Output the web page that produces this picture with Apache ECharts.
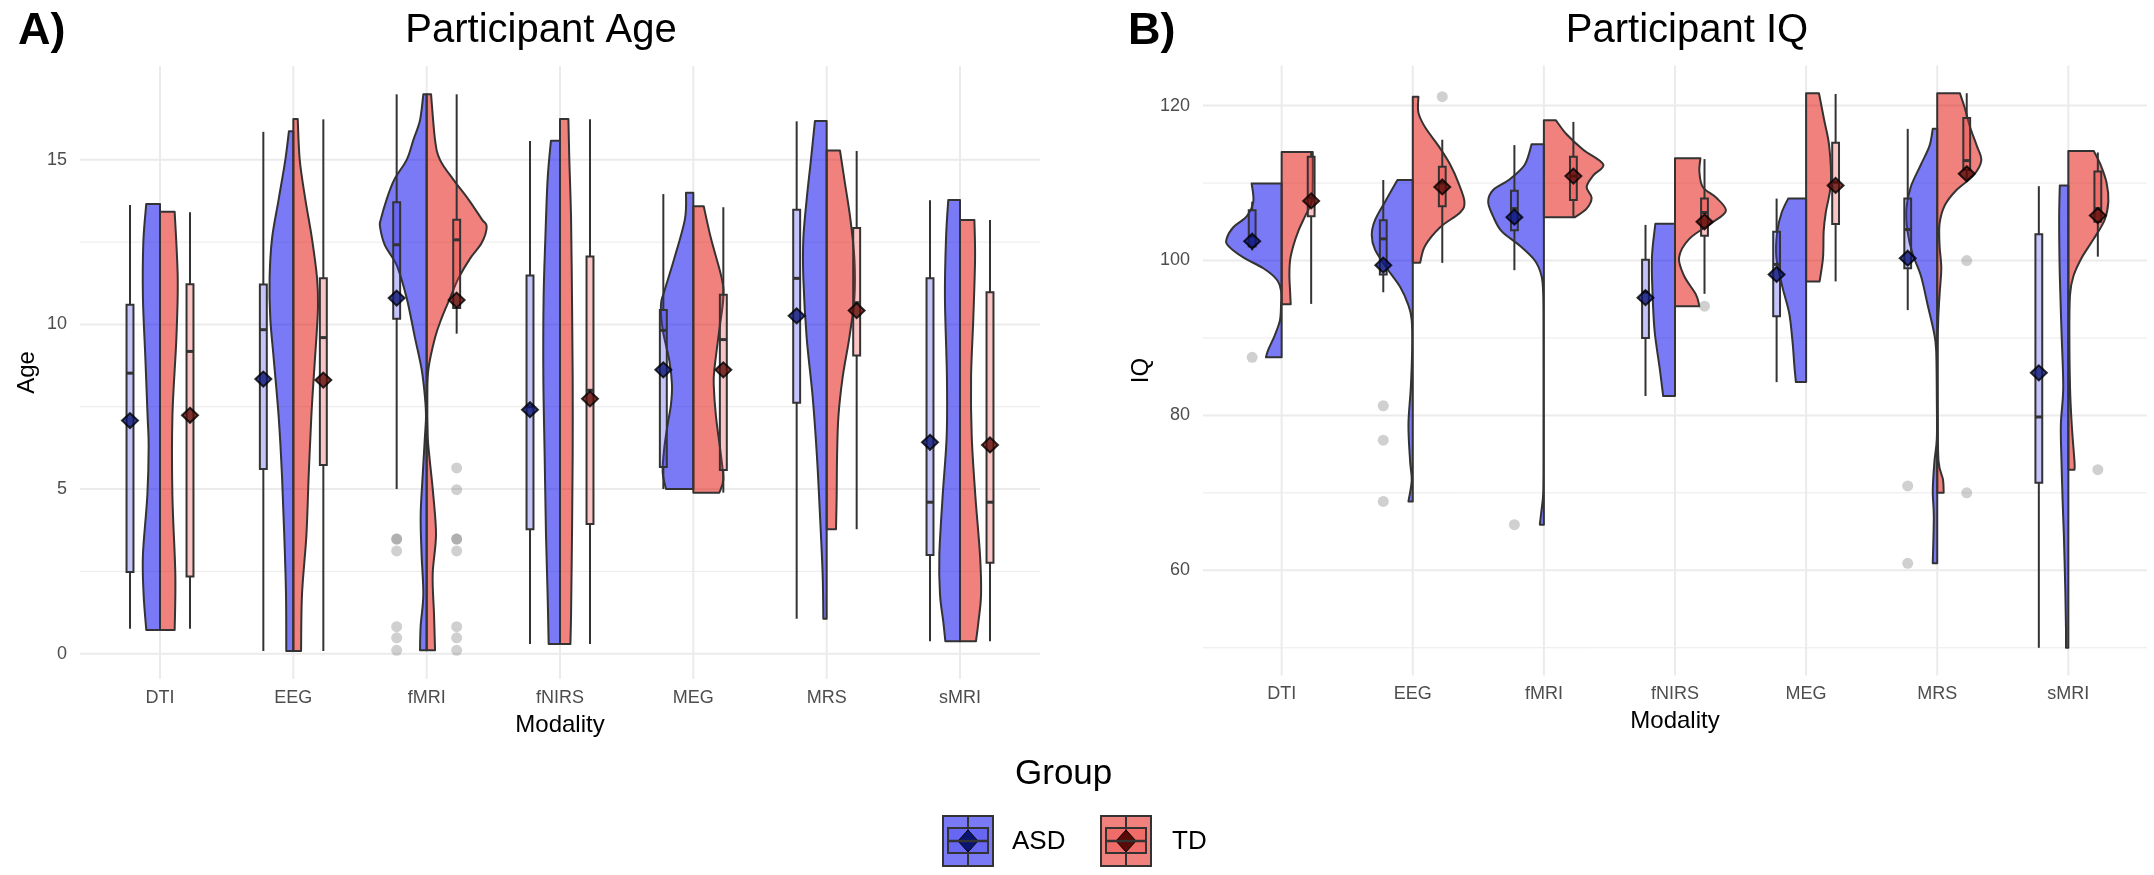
<!DOCTYPE html>
<html>
<head>
<meta charset="utf-8">
<script src="https://cdn.jsdelivr.net/npm/echarts@6/dist/echarts.min.js"></script>
<style>
  html, body { margin: 0; padding: 0; background: #fff; }
  #chart { width: 2154px; height: 875px; }
</style>
</head>
<body>
<div id="chart"></div>
<script>
// ================= data =================
var modalities = ['DTI', 'EEG', 'fMRI', 'fNIRS', 'MEG', 'MRS', 'sMRI'];
var groups = ['ASD', 'TD'];

var ageLimits = [-0.77, 17.85];
var ageTicks = [0, 5, 10, 15];
var ageMinor = [2.5, 7.5, 12.5];
var iqLimits = [46.42, 125.18];
var iqTicks = [60, 80, 100, 120];
var iqMinor = [50, 70, 90, 110];

// violin outlines, top to bottom: [value, half width in category units]
var ageViolinASD = [
  [[13.66, 0.103], [12.5, 0.125], [10.8, 0.128], [9.0, 0.11], [7.2, 0.093], [6.3, 0.085], [4.8, 0.095], [3.0, 0.128], [1.8, 0.123], [0.72, 0.103]],
  [[15.87, 0.033], [15.0, 0.06], [13.8, 0.11], [12.6, 0.16], [11.4, 0.178], [10.2, 0.173], [9.0, 0.148], [7.2, 0.11], [5.4, 0.085], [3.6, 0.068], [1.8, 0.055], [0.08, 0.053]],
  [[16.99, 0.025], [16.2, 0.05], [15.6, 0.1], [15.0, 0.15], [14.4, 0.243], [13.8, 0.3], [13.2, 0.343], [12.97, 0.35], [12.4, 0.313], [11.8, 0.225], [10.8, 0.15], [9.6, 0.088], [8.64, 0.038], [7.8, 0.013], [7.2, 0.005], [6.6, 0.013], [5.4, 0.03], [4.2, 0.045], [3.0, 0.038], [1.8, 0.025], [0.84, 0.045], [0.1, 0.05]],
  [[15.58, 0.068], [14.4, 0.093], [12.6, 0.11], [10.8, 0.123], [8.4, 0.125], [6.0, 0.115], [3.6, 0.105], [1.8, 0.093], [0.29, 0.085]],
  [[14.0, 0.055], [13.2, 0.063], [12.0, 0.143], [11.0, 0.218], [10.6, 0.243], [9.84, 0.23], [8.9, 0.18], [8.16, 0.16], [7.56, 0.168], [6.96, 0.193], [6.24, 0.218], [5.52, 0.23], [5.0, 0.205]],
  [[16.18, 0.088], [15.0, 0.118], [13.8, 0.15], [12.6, 0.175], [11.4, 0.175], [9.6, 0.15], [7.8, 0.105], [6.0, 0.073], [4.2, 0.05], [2.4, 0.03], [1.06, 0.025]],
  [[13.78, 0.088], [12.6, 0.105], [10.8, 0.113], [8.4, 0.098], [6.6, 0.1], [4.8, 0.13], [3.0, 0.155], [1.8, 0.15], [0.96, 0.125], [0.38, 0.11]]
];
var ageViolinTD = [
  [[13.42, 0.11], [11.4, 0.133], [9.6, 0.123], [7.2, 0.093], [4.8, 0.093], [2.4, 0.115], [0.72, 0.11]],
  [[16.24, 0.033], [15.0, 0.048], [13.8, 0.09], [12.6, 0.14], [11.4, 0.178], [10.56, 0.185], [9.6, 0.173], [8.4, 0.153], [7.2, 0.135], [5.4, 0.115], [3.6, 0.098], [1.8, 0.065], [0.08, 0.058]],
  [[16.99, 0.033], [15.6, 0.063], [15.0, 0.1], [14.4, 0.2], [13.8, 0.313], [13.2, 0.413], [12.97, 0.45], [12.48, 0.413], [12.0, 0.325], [11.4, 0.238], [10.8, 0.175], [10.2, 0.113], [9.6, 0.063], [8.64, 0.013], [7.8, 0.005], [6.6, 0.008], [6.0, 0.02], [4.8, 0.05], [3.6, 0.07], [2.4, 0.045], [1.2, 0.055], [0.1, 0.063]],
  [[16.24, 0.063], [15.0, 0.07], [13.2, 0.083], [10.8, 0.09], [8.4, 0.095], [6.0, 0.095], [3.6, 0.09], [1.2, 0.083], [0.29, 0.078]],
  [[13.59, 0.078], [12.6, 0.133], [11.4, 0.213], [10.8, 0.225], [9.84, 0.195], [8.64, 0.158], [8.16, 0.153], [7.2, 0.17], [6.0, 0.208], [5.28, 0.225], [4.89, 0.195]],
  [[15.28, 0.1], [14.4, 0.133], [13.2, 0.178], [12.0, 0.208], [10.8, 0.208], [9.6, 0.17], [8.4, 0.12], [7.2, 0.088], [6.0, 0.078], [4.8, 0.075], [3.78, 0.07]],
  [[13.17, 0.108], [12.0, 0.113], [10.2, 0.1], [8.4, 0.083], [6.6, 0.088], [4.8, 0.115], [3.0, 0.15], [1.8, 0.158], [0.96, 0.138], [0.38, 0.12]]
];
var iqViolinASD = [
  [[109.93, 0.229], [107.6, 0.216], [105.7, 0.267], [104.3, 0.369], [102.8, 0.42], [101.9, 0.407], [100.4, 0.293], [99.0, 0.14], [97.55, 0.038], [96.1, 0.005], [94.2, 0.005], [92.3, 0.013], [90.4, 0.051], [88.5, 0.102], [87.5, 0.12]],
  [[110.4, 0.117], [107.6, 0.211], [105.2, 0.288], [103.3, 0.313], [101.4, 0.288], [99.0, 0.198], [96.6, 0.097], [94.2, 0.033], [92.3, 0.008], [88.4, 0.005], [83.6, 0.015], [78.8, 0.033], [74.0, 0.02], [71.6, 0.008], [68.9, 0.033]],
  [[115.0, 0.094], [112.4, 0.145], [110.5, 0.26], [109.1, 0.387], [107.6, 0.425], [105.7, 0.387], [103.8, 0.323], [101.9, 0.183], [100.0, 0.069], [98.0, 0.018], [95.6, 0.005], [90.0, 0.003], [75.0, 0.003], [70.0, 0.005], [67.8, 0.018], [65.9, 0.031]],
  [[104.75, 0.15], [100.4, 0.176], [95.6, 0.171], [90.8, 0.155], [86.0, 0.116], [82.5, 0.09]],
  [[108.0, 0.137], [106.2, 0.186], [103.8, 0.22], [100.4, 0.227], [96.6, 0.181], [93.2, 0.129], [89.4, 0.103], [86.5, 0.09], [84.3, 0.078]],
  [[117.0, 0.034], [114.8, 0.059], [112.4, 0.124], [109.5, 0.202], [106.7, 0.235], [103.8, 0.227], [100.9, 0.189], [98.0, 0.124], [94.2, 0.072], [90.8, 0.026], [88.4, 0.008], [82.0, 0.003], [77.0, 0.003], [74.1, 0.021], [70.3, 0.034], [66.9, 0.026], [60.9, 0.034]],
  [[109.7, 0.065], [105.2, 0.07], [98.0, 0.065], [90.8, 0.052], [83.6, 0.039], [78.8, 0.057], [74.0, 0.052], [69.2, 0.044], [64.5, 0.034], [57.3, 0.023], [52.5, 0.018], [50.0, 0.018]]
];
var iqViolinTD = [
  [[114.0, 0.237], [110.0, 0.237], [107.6, 0.229], [105.7, 0.178], [103.8, 0.127], [101.9, 0.089], [100.0, 0.064], [98.0, 0.059], [96.1, 0.064], [94.34, 0.069]],
  [[121.15, 0.043], [119.1, 0.043], [117.2, 0.094], [114.8, 0.196], [112.4, 0.285], [110.0, 0.349], [107.6, 0.394], [106.2, 0.361], [104.3, 0.209], [101.9, 0.094], [99.7, 0.056]],
  [[118.1, 0.092], [116.3, 0.173], [114.3, 0.3], [112.4, 0.453], [111.0, 0.377], [109.5, 0.326], [108.1, 0.364], [106.7, 0.326], [105.6, 0.237]],
  [[113.2, 0.194], [111.5, 0.186], [109.5, 0.212], [108.1, 0.315], [106.4, 0.388], [104.8, 0.276], [102.8, 0.109], [100.4, 0.031], [98.0, 0.07], [95.6, 0.16], [94.1, 0.186]],
  [[121.6, 0.098], [118.2, 0.137], [114.8, 0.176], [110.0, 0.189], [106.2, 0.15], [103.8, 0.134], [100.4, 0.129], [97.3, 0.103]],
  [[121.6, 0.173], [119.6, 0.212], [117.2, 0.251], [114.8, 0.302], [112.9, 0.336], [110.98, 0.276], [109.1, 0.147], [107.1, 0.057], [104.75, 0.018], [101.9, 0.018], [99.0, 0.031], [95.6, 0.018], [90.8, 0.005], [80.0, 0.005], [74.1, 0.01], [71.7, 0.044], [70.0, 0.049]],
  [[114.15, 0.194], [112.4, 0.245], [110.0, 0.292], [107.6, 0.305], [105.2, 0.276], [102.8, 0.194], [100.4, 0.103], [98.0, 0.039], [95.6, 0.013], [90.8, 0.008], [83.6, 0.013], [78.8, 0.026], [74.0, 0.047], [73.0, 0.047]]
];

// boxes: [lower whisker, q1, median, q3, upper whisker]
var ageBoxASD = [[0.76, 2.48, 8.52, 10.6, 13.63], [0.08, 5.61, 9.84, 11.21, 15.85], [5.0, 10.17, 12.42, 13.71, 16.99], [0.29, 3.78, 7.5, 11.49, 15.57], [5.0, 5.67, 9.82, 10.44, 13.96], [1.06, 7.62, 11.4, 13.48, 16.17], [0.38, 3.0, 4.6, 11.4, 13.77]];
var ageBoxTD = [[0.76, 2.34, 9.18, 11.22, 13.41], [0.08, 5.73, 9.6, 11.4, 16.23], [9.72, 10.5, 12.57, 13.18, 16.99], [0.29, 3.94, 8.0, 12.06, 16.23], [4.89, 5.58, 9.54, 10.9, 13.56], [3.78, 9.06, 10.66, 12.93, 15.27], [0.38, 2.76, 4.6, 10.98, 13.17]];
var iqBoxASD = [[101.3, 101.8, 103.1, 106.5, 107.6], [95.9, 98.2, 102.8, 105.2, 110.4], [98.75, 103.9, 106.7, 109.0, 114.9], [82.5, 90.0, 95.9, 100.1, 104.6], [84.3, 92.8, 99.5, 103.7, 108.0], [93.6, 99.0, 104.0, 108.0, 117.0], [50.0, 71.3, 79.8, 103.4, 109.6]];
var iqBoxTD = [[94.4, 105.7, 108.1, 113.4, 114.0], [99.7, 107.0, 110.0, 112.1, 115.6], [105.6, 107.8, 110.9, 113.4, 117.9], [95.7, 103.2, 106.2, 108.0, 113.1], [97.3, 104.7, 110.1, 115.2, 121.5], [110.5, 111.7, 112.9, 118.4, 121.6], [100.5, 105.0, 106.7, 111.5, 113.95]];

// group means
var ageMeanASD = [7.08, 8.34, 10.8, 7.41, 8.62, 10.26, 6.42];
var ageMeanTD = [7.24, 8.31, 10.74, 7.74, 8.62, 10.42, 6.34];
var iqMeanASD = [102.5, 99.4, 105.6, 95.2, 98.2, 100.3, 85.5];
var iqMeanTD = [107.7, 109.5, 110.9, 105.0, 109.7, 111.2, 105.8];

// outliers: [modality index, value]
var ageOutlierASD = [[2, 3.48], [2, 3.48], [2, 3.12], [2, 0.82], [2, 0.48], [2, 0.1]];
var ageOutlierTD = [[2, 5.64], [2, 4.98], [2, 3.48], [2, 3.48], [2, 3.12], [2, 0.82], [2, 0.48], [2, 0.1]];
var iqOutlierASD = [[0, 87.5], [1, 81.25], [1, 76.8], [1, 68.9], [2, 65.9], [5, 70.9], [5, 60.9]];
var iqOutlierTD = [[1, 121.15], [3, 94.1], [5, 100.0], [5, 70.0], [6, 73.0]];

// ================= style =================
var FONT = '"Liberation Sans", Arial, sans-serif';
var violinFill = { ASD: 'rgba(10,10,240,0.54)', TD: 'rgba(228,14,6,0.52)' };
var boxFill = { ASD: 'rgba(60,60,240,0.3)', TD: 'rgba(235,60,55,0.3)' };
var meanFill = { ASD: '#0a1570', TD: '#5a0b07' };
var side = { ASD: -1, TD: 1 };
var boxOffset = 0.225, boxHalf = 0.026;

var panels = [
  {
    grid: { left: 80, top: 66, width: 960, height: 613 },
    limits: ageLimits, ticks: ageTicks, minor: ageMinor, yName: 'Age', yNameGap: 41,
    violin: { ASD: ageViolinASD, TD: ageViolinTD },
    box: { ASD: ageBoxASD, TD: ageBoxTD },
    mean: { ASD: ageMeanASD, TD: ageMeanTD },
    outlier: { ASD: ageOutlierASD, TD: ageOutlierTD }
  },
  {
    grid: { left: 1203, top: 65.5, width: 944, height: 610 },
    limits: iqLimits, ticks: iqTicks, minor: iqMinor, yName: 'IQ', yNameGap: 50,
    violin: { ASD: iqViolinASD, TD: iqViolinTD },
    box: { ASD: iqBoxASD, TD: iqBoxTD },
    mean: { ASD: iqMeanASD, TD: iqMeanTD },
    outlier: { ASD: iqOutlierASD, TD: iqOutlierTD }
  }
];

var catPos = modalities.map(function (m, i) { return i + 1; });

// smooth outline through the read points (Catmull-Rom as Bezier)
function violinRender(profiles, g) {
  return function (params, api) {
    var i = api.value(0);
    var prof = profiles[i];
    var cx = i + 1;
    var pts = prof.map(function (p) { return api.coord([cx + side[g] * p[1], p[0]]); });
    var top = api.coord([cx, prof[0][0]]);
    var bot = api.coord([cx, prof[prof.length - 1][0]]);
    var d = 'M' + top[0] + ' ' + top[1] + 'L' + pts[0][0] + ' ' + pts[0][1];
    for (var k = 0; k < pts.length - 1; k++) {
      var p0 = pts[Math.max(k - 1, 0)], p1 = pts[k], p2 = pts[k + 1], p3 = pts[Math.min(k + 2, pts.length - 1)];
      d += 'C' + (p1[0] + (p2[0] - p0[0]) / 6) + ' ' + (p1[1] + (p2[1] - p0[1]) / 6) + ' ' +
        (p2[0] - (p3[0] - p1[0]) / 6) + ' ' + (p2[1] - (p3[1] - p1[1]) / 6) + ' ' + p2[0] + ' ' + p2[1];
    }
    d += 'L' + bot[0] + ' ' + bot[1] + 'Z';
    return {
      type: 'path',
      shape: { pathData: d },
      style: { fill: violinFill[g], stroke: '#333333', lineWidth: 2, lineJoin: 'round' }
    };
  };
}

function boxRender(g) {
  return function (params, api) {
    var cx = api.value(0) + 1 + side[g] * boxOffset;
    var lo = api.coord([cx, api.value(1)]), q1 = api.coord([cx, api.value(2)]),
      md = api.coord([cx, api.value(3)]), q3 = api.coord([cx, api.value(4)]), hi = api.coord([cx, api.value(5)]);
    var l = api.coord([cx - boxHalf, 0])[0], r = api.coord([cx + boxHalf, 0])[0];
    var st = { stroke: '#333333', lineWidth: 2 };
    return {
      type: 'group',
      children: [
        { type: 'line', shape: { x1: lo[0], y1: lo[1], x2: q1[0], y2: q1[1] }, style: st },
        { type: 'line', shape: { x1: q3[0], y1: q3[1], x2: hi[0], y2: hi[1] }, style: st },
        { type: 'rect', shape: { x: l, y: q3[1], width: r - l, height: q1[1] - q3[1] },
          style: { fill: boxFill[g], stroke: '#333333', lineWidth: 2 } },
        { type: 'line', shape: { x1: l, y1: md[1], x2: r, y2: md[1] }, style: { stroke: '#333333', lineWidth: 3 } }
      ]
    };
  };
}

function gridLineRender(horizontal, width, p) {
  return function (params, api) {
    var v = api.value(0);
    var a, b;
    if (horizontal) {
      a = api.coord([0.4, v]); b = api.coord([7.6, v]);
    } else {
      a = api.coord([v, p.limits[0]]); b = api.coord([v, p.limits[1]]);
    }
    return { type: 'line', shape: { x1: a[0], y1: a[1], x2: b[0], y2: b[1] },
      style: { stroke: '#ebebeb', lineWidth: width } };
  };
}

var grids = [], xAxes = [], yAxes = [], series = [];
panels.forEach(function (p, pi) {
  grids.push(p.grid);
  xAxes.push({
    type: 'value', gridIndex: pi, min: 0.4, max: 7.6,
    axisLine: { show: false }, axisTick: { show: false }, splitLine: { show: false },
    axisLabel: {
      customValues: catPos, margin: 10, fontSize: 18, color: '#4d4d4d', fontFamily: FONT,
      formatter: function (v) { return modalities[Math.round(v) - 1]; }
    },
    name: 'Modality', nameLocation: 'middle', nameGap: 34,
    nameTextStyle: { fontSize: 24, color: '#000', fontFamily: FONT }
  });
  yAxes.push({
    type: 'value', gridIndex: pi, min: p.limits[0], max: p.limits[1],
    axisLine: { show: false }, axisTick: { show: false }, splitLine: { show: false },
    axisLabel: { customValues: p.ticks, margin: 13, fontSize: 18, color: '#4d4d4d', fontFamily: FONT },
    name: p.yName, nameLocation: 'middle', nameGap: p.yNameGap, nameRotate: 90,
    nameTextStyle: { fontSize: 24, color: '#000', fontFamily: FONT }
  });

  var axisRef = { xAxisIndex: pi, yAxisIndex: pi };
  function add(s) { series.push(Object.assign({}, axisRef, s)); }

  add({ type: 'custom', silent: true, z: 0, renderItem: gridLineRender(true, 1, p), data: p.minor.map(function (v) { return [v]; }) });
  add({ type: 'custom', silent: true, z: 0, renderItem: gridLineRender(true, 2, p), data: p.ticks.map(function (v) { return [v]; }) });
  add({ type: 'custom', silent: true, z: 0, renderItem: gridLineRender(false, 2, p), data: catPos.map(function (v) { return [v]; }) });

  groups.forEach(function (g) {
    add({ type: 'custom', name: g, z: 2, renderItem: violinRender(p.violin[g], g),
      data: modalities.map(function (m, i) { return [i]; }) });
  });
  groups.forEach(function (g) {
    add({ type: 'custom', name: g, z: 3, renderItem: boxRender(g),
      data: p.box[g].map(function (b, i) { return [i].concat(b); }) });
  });
  groups.forEach(function (g) {
    add({ type: 'scatter', name: g, z: 4, symbol: 'circle', symbolSize: 11,
      itemStyle: { color: 'rgba(110,110,110,0.4)' },
      data: p.outlier[g].map(function (o) { return [o[0] + 1 + side[g] * boxOffset, o[1]]; }) });
    add({ type: 'scatter', name: g, z: 5, symbol: 'diamond', symbolSize: [16, 15],
      itemStyle: { color: meanFill[g], borderColor: '#000', borderWidth: 2 },
      data: p.mean[g].map(function (v, i) { return [i + 1 + side[g] * boxOffset, v]; }) });
  });
});

// legend keys
function legendKey(x, g) {
  var cx = x + 25;
  return {
    type: 'group', children: [
      { type: 'rect', shape: { x: x, y: 816, width: 50, height: 50 }, style: { fill: violinFill[g], stroke: '#333333', lineWidth: 2 } },
      { type: 'line', shape: { x1: cx, y1: 817, x2: cx, y2: 865 }, style: { stroke: '#333333', lineWidth: 2 } },
      { type: 'rect', shape: { x: x + 5, y: 828, width: 40, height: 25 }, style: { fill: boxFill[g], stroke: '#333333', lineWidth: 2 } },
      { type: 'polygon', shape: { points: [[cx, 830], [cx + 10, 841], [cx, 852], [cx - 10, 841]] }, style: { fill: meanFill[g], stroke: '#000', lineWidth: 1 } },
      { type: 'line', shape: { x1: x + 5, y1: 841, x2: x + 45, y2: 841 }, style: { stroke: '#333333', lineWidth: 2.5 } }
    ]
  };
}

var option = {
  backgroundColor: '#ffffff',
  animation: false,
  title: [
    { text: 'A)', left: 13, top: 4, textStyle: { fontSize: 45, fontWeight: 'bold', color: '#000', fontFamily: FONT } },
    { text: 'B)', left: 1123, top: 4, textStyle: { fontSize: 45, fontWeight: 'bold', color: '#000', fontFamily: FONT } },
    { text: 'Participant Age', left: 536, top: 6, textAlign: 'center', textStyle: { fontSize: 40, fontWeight: 'normal', color: '#000', fontFamily: FONT } },
    { text: 'Participant IQ', left: 1682, top: 6, textAlign: 'center', textStyle: { fontSize: 40, fontWeight: 'normal', color: '#000', fontFamily: FONT } }
  ],
  grid: grids,
  xAxis: xAxes,
  yAxis: yAxes,
  series: series,
  graphic: [
    { type: 'text', left: 1015, top: 757, style: { text: 'Group', fontSize: 35, fill: '#000', fontFamily: FONT } },
    legendKey(943, 'ASD'),
    { type: 'text', left: 1012, top: 829, style: { text: groups[0], fontSize: 26, fill: '#000', fontFamily: FONT } },
    legendKey(1101, 'TD'),
    { type: 'text', left: 1172, top: 829, style: { text: groups[1], fontSize: 26, fill: '#000', fontFamily: FONT } }
  ]
};

var chart = echarts.init(document.getElementById('chart'));
chart.setOption(option);
</script>
</body>
</html>
